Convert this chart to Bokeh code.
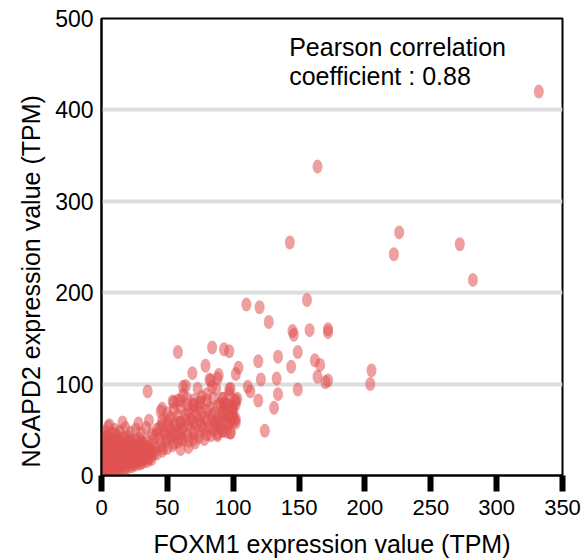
import math
from bokeh.plotting import figure
from bokeh.models import Range1d, FixedTicker, Label, Title, ColumnDataSource
from bokeh.embed import file_html
from bokeh.resources import INLINE

# ---------------- data ----------------
x_ticks = [0, 50, 100, 150, 200, 250, 300, 350]
y_ticks = [0, 100, 200, 300, 400, 500]
grid_ticks = [100, 200, 300, 400]

# dense core of low-expression samples
core_x = [1, 1, 1, 1, 1, 1, 1, 1,
          3, 3, 3, 3, 3, 3, 3, 3,
          5, 5, 5, 5, 5, 5, 5, 5, 5,
          8, 8, 8, 8, 8, 8, 8, 8,
          11, 11, 11, 11, 11, 11, 11, 11,
          14, 14, 14, 14, 14, 14, 14,
          17, 17, 17, 17, 17, 17, 17,
          20, 20, 20, 20, 20, 20, 20,
          23, 23, 23, 23, 23, 23,
          26, 26, 26, 26, 26, 26,
          29, 29, 29, 29, 29, 29,
          32, 32, 32, 32, 32,
          35, 35, 35, 35, 35,
          38, 38, 38, 38,
          2, 2, 2,
          6, 6, 6, 6,
          9, 9, 9,
          12, 12, 12, 12,
          15, 15, 15,
          18, 18, 18,
          21, 21, 21,
          24, 24, 24,
          27, 27,
          30, 30, 30,
          33, 33,
          36, 36]
core_y = [2, 8, 14, 20, 26, 32, 38, 44,
          5, 11, 17, 23, 29, 35, 41, 48,
          2, 7, 13, 19, 25, 31, 37, 43, 53,
          3, 9, 15, 21, 27, 33, 39, 46,
          4, 9, 14, 20, 26, 32, 38, 45,
          6, 10, 16, 22, 28, 34, 40,
          7, 12, 17, 23, 29, 35, 41,
          9, 13, 18, 24, 30, 36, 42,
          10, 14, 19, 25, 31, 37,
          12, 15, 20, 26, 32, 38,
          13, 17, 22, 28, 34, 40,
          15, 18, 23, 29, 35,
          16, 20, 25, 31, 37,
          18, 22, 27, 33,
          11, 23, 35,
          4, 16, 28, 40,
          12, 24, 36,
          6, 18, 30, 42,
          13, 25, 37,
          9, 20, 32,
          15, 27, 39,
          12, 22, 34,
          17, 29,
          14, 25, 37,
          20, 32,
          19, 29]

# lighter band around the core
band_x = [6, 10, 14, 18, 22, 26, 30, 34, 38, 42, 46, 50,
          16, 28, 36,
          44, 48, 52, 56, 60,
          41, 45, 49, 53, 57, 61,
          42, 46, 50, 54, 58, 62,
          40, 40, 47, 55]
band_y = [55, 50, 48, 52, 47, 50, 46, 52, 45, 50, 55, 60,
          58, 57, 60,
          40, 45, 50, 55, 58,
          30, 33, 38, 42, 46, 50,
          24, 27, 30, 33, 37, 40,
          42, 25, 30, 36]

# middle cluster
mid_x = [42, 44, 46, 48, 50, 52, 54, 56, 58, 60, 62, 64, 66, 68, 70, 72,
         74, 76, 78, 80, 82, 84, 86, 88, 90, 92, 94, 96, 98, 100, 102,
         50, 55, 60, 65, 70, 75, 80, 85, 90, 95,
         55, 60, 65, 70, 75, 80,
         50, 45, 58, 62, 85, 92,
         66, 70, 74, 78, 83, 88, 92, 98, 99,
         60, 66, 71,
         68, 72, 76, 80, 84, 88, 92, 96, 100, 74,
         82, 90, 78, 86, 94, 66, 70, 98, 64, 60]
mid_y = [45, 52, 60, 48, 55, 63, 50, 58, 66, 45, 53, 61, 70, 50, 58, 66,
         74, 55, 63, 71, 52, 60, 68, 76, 58, 66, 72, 56, 64, 70, 58,
         42, 45, 40, 44, 46, 48, 45, 50, 52, 48,
         72, 75, 77, 77, 80, 82,
         68, 70, 82, 88, 84, 84,
         38, 40, 42, 40, 44, 46, 49, 47, 60,
         29, 31, 36,
         62, 56, 68, 60, 66, 62, 70, 62, 64, 60,
         74, 78, 52, 58, 60, 56, 70, 76, 66, 58]

# scattered higher-expression samples
spread_x = [332, 164, 143, 226, 222, 272, 282, 110, 120, 127,
            156, 145, 146, 158, 172, 172, 58, 84, 93, 97,
            79, 69, 104, 102, 119, 134, 149, 144, 162, 166,
            121, 133, 164, 170, 172, 205, 204, 111, 113, 134,
            149, 119, 131, 35, 89, 88, 82, 62, 64, 73,
            97, 97, 102, 102, 93, 99, 54, 46, 60, 70,
            76, 84, 80, 124, 83, 87, 98, 103, 92, 55,
            65, 70, 75, 95, 100, 98, 102, 93, 87, 92,
            98, 88, 101, 94, 101]
spread_y = [420, 338, 255, 266, 242, 253, 214, 187, 184, 168,
            192, 158, 154, 159, 160, 157, 135, 140, 138, 136,
            120, 112, 118, 111, 125, 130, 135, 119, 126, 121,
            105, 106, 108, 102, 104, 115, 100, 97, 92, 89,
            94, 82, 74, 92, 110, 106, 105, 97, 98, 95,
            94, 89, 82, 78, 78, 71, 81, 73, 82, 82,
            86, 97, 89, 49, 104, 95, 95, 84, 84, 80,
            84, 77, 80, 77, 75, 62, 62, 66, 55, 49,
            47, 44, 60, 79, 82]

foxm1 = core_x + band_x + mid_x + spread_x
ncapd2 = core_y + band_y + mid_y + spread_y

# ---------------- figure ----------------
FONT = "Liberation Sans"
Y_TITLE = "NCAPD2 expression value (TPM)"
p = figure(width=586, height=560, output_backend="svg", toolbar_location=None,
           x_range=Range1d(0, 350), y_range=Range1d(0, 500),
           min_border_left=101, min_border_right=24,
           min_border_top=18, min_border_bottom=85)
p.background_fill_color = "white"
p.border_fill_color = "white"
p.outline_line_color = "black"
p.outline_line_width = 2

p.xgrid.visible = False
p.ygrid.ticker = FixedTicker(ticks=grid_ticks)
p.ygrid.grid_line_color = "#dddddd"
p.ygrid.grid_line_width = 4

src = ColumnDataSource(dict(x=foxm1, y=ncapd2))
p.ellipse(x="x", y="y", width=10, height=14, width_units="screen",
          height_units="screen", fill_color="#e05252", fill_alpha=0.55,
          line_color=None, source=src)

xa = p.xaxis[0]
xa.ticker = FixedTicker(ticks=x_ticks)
xa.axis_line_color = "black"
xa.axis_line_width = 2
xa.major_tick_line_color = "black"
xa.major_tick_line_width = 6
xa.major_tick_out = 16
xa.major_tick_in = 0
xa.minor_tick_line_color = None
xa.major_label_text_font = FONT
xa.major_label_text_font_size = "22px"
xa.major_label_text_color = "black"
xa.major_label_standoff = 8
xa.axis_label = "FOXM1 expression value (TPM)"
xa.axis_label_text_font = FONT
xa.axis_label_text_font_size = "25px"
xa.axis_label_text_font_style = "normal"
xa.axis_label_text_color = "black"
xa.axis_label_standoff = 12

ya = p.yaxis[0]
ya.ticker = FixedTicker(ticks=y_ticks)
ya.axis_line_color = "black"
ya.axis_line_width = 2
ya.major_tick_line_color = None
ya.major_tick_out = 0
ya.major_tick_in = 0
ya.minor_tick_line_color = None
ya.major_label_text_font = FONT
ya.major_label_text_font_size = "23px"
ya.major_label_text_color = "black"
ya.major_label_standoff = 8

# y-axis title as a side title, starting near the bottom like in the reference
p.add_layout(Title(text=Y_TITLE, align="left", offset=8, standoff=16,
                   text_font=FONT, text_font_size="25px",
                   text_font_style="normal", text_color="black"), "left")

p.add_layout(Label(x=142.5, y=468.5, text="Pearson correlation",
                   text_baseline="alphabetic", text_align="left",
                   text_font=FONT, text_font_size="25px", text_color="black"))
p.add_layout(Label(x=142.5, y=437.5, text="coefficient : 0.88",
                   text_baseline="alphabetic", text_align="left",
                   text_font=FONT, text_font_size="25px", text_color="black"))

open("out.html", "w").write(file_html(p, INLINE))
